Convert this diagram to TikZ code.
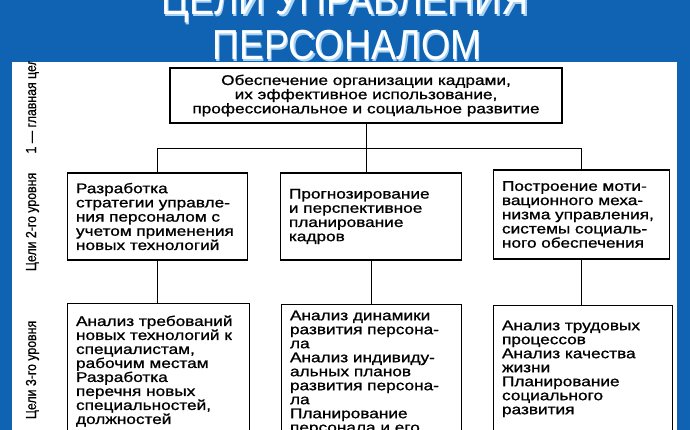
\documentclass[tikz,border=0pt]{standalone}
\usepackage{fontspec}
\setmainfont{Liberation Sans}
\newfontfamily\scanfont[FakeStretch=1.23,FakeBold=1]{Liberation Sans}
\newfontfamily\titlefont[FakeStretch=0.89]{Liberation Sans}
\newfontfamily\sidefont[FakeStretch=0.85,FakeBold=0.6]{Liberation Sans}
\definecolor{slideblue}{RGB}{16,98,178}
\definecolor{titlerim}{RGB}{165,210,245}

\begin{document}
\begin{tikzpicture}
  [x=1pt,y=-1pt,
   goal/.style={draw,line width=1.1pt,inner xsep=8.5pt,inner ysep=0pt,
                font=\scanfont\fontsize{14}{14.2}\selectfont},
   subgoal/.style={goal,anchor=north west,font=\scanfont\fontsize{14}{14}\selectfont},
   side/.style={rotate=90,anchor=base,font=\sidefont\fontsize{14.5}{16}\selectfont},
   title/.style={anchor=base,font=\titlefont\fontsize{42}{45}\selectfont}]
  \useasboundingbox (0,0) rectangle (690,430);
  \fill[slideblue] (0,0) rectangle (690,430);

  % title
  \node[title,text=titlerim] at (346.5,16.5) {ЦЕЛИ УПРАВЛЕНИЯ};
  \node[title,text=titlerim] at (348.5,61.5) {ПЕРСОНАЛОМ};
  \node[title,text=white] (t1) at (345,15) {ЦЕЛИ УПРАВЛЕНИЯ};
  \node[title,text=white] (t2) at (347,60) {ПЕРСОНАЛОМ};

  \begin{scope}
  \clip (12,62) rectangle (677,430);
  \fill[white] (12,62) rectangle (677,430);

  % levels
  \node[side,anchor=base west] (lvl1) at (36,157) {1 — главная цель};
  \node[side] (lvl2) at (36,222) {Цели 2-го уровня};
  \node[side] (lvl3) at (36,370) {Цели 3-го уровня};

  % main goal
  \node[goal,align=center,minimum width=392pt,minimum height=55pt] (main) at (366,95.5)
    {Обеспечение организации кадрами,\\их эффективное использование,\\профессиональное и социальное развитие};

  % goals of the 2nd level
  \node[goal,align=left,text width=163pt,minimum height=87pt] (g1) at (157.5,216.5)
    {Разработка\\стратегии управле-\\ния персоналом с\\учетом применения\\новых технологий};
  \node[goal,align=left,text width=164pt,minimum height=87pt] (g2) at (371,216.5)
    {Прогнозирование\\и перспективное\\планирование\\кадров};
  \node[goal,align=left,text width=159pt,minimum height=89pt] (g3) at (581.5,214.5)
    {Построение моти-\\вационного меха-\\низма управления,\\системы социаль-\\ного обеспечения};

  % goals of the 3rd level
  \node[subgoal,inner ysep=12pt] (s1) at (67,303)
    {\parbox[t][130pt][t]{165pt}{\raggedright Анализ требований\\новых технологий к\\специалистам,\\рабочим местам\\Разработка\\перечня новых\\специальностей,\\должностей}};
  \node[subgoal,inner ysep=6pt] (s2) at (281,304)
    {\parbox[t][140pt][t]{163pt}{\raggedright Анализ динамики\\развития персона-\\ла\\Анализ индивиду-\\альных планов\\развития персона-\\ла\\Планирование\\персонала и его}};
  \node[subgoal,inner ysep=15pt] (s3) at (493,305)
    {\parbox[t][125pt][t]{162pt}{\raggedright Анализ трудовых\\процессов\\Анализ качества\\жизни\\Планирование\\социального\\развития}};

  \draw[line width=0.9pt] (main.south) -- ++(0,25) coordinate (hub);
  \draw[line width=0.9pt] (g1.north) |- (hub) -| (g3.north);
  \draw[line width=0.9pt] (hub) -- (hub |- g2.north);
  \foreach \from/\to in {g1/s1,g2/s2,g3/s3}
    \draw[line width=0.9pt] (\from.south) -- (\from.south |- \to.north);
  \end{scope}
\end{tikzpicture}
\end{document}
